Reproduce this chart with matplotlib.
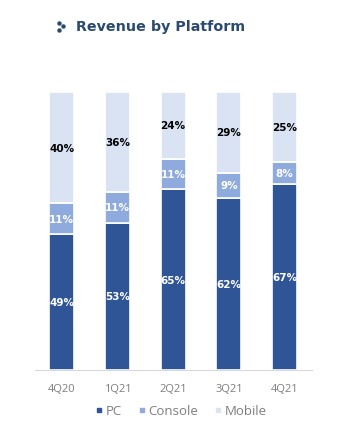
import matplotlib
matplotlib.use("Agg")
import matplotlib.pyplot as plt
import numpy as np
from matplotlib.lines import Line2D

# data
quarters = ["4Q20", "1Q21", "2Q21", "3Q21", "4Q21"]
series = ["PC", "Console", "Mobile"]
pc = [49, 53, 65, 62, 67]
console = [11, 11, 11, 9, 8]
mobile = [40, 36, 24, 29, 25]

colors = ["#2F5597", "#8FAADC", "#DAE3F3"]
label_colors = ["white", "white", "black"]

fig = plt.figure(figsize=(3.54, 4.35), dpi=100)
ax = fig.add_axes([0.099, 0.147, 0.782, 0.639])

x = np.arange(len(quarters))
bottom = np.zeros(len(quarters))
for name, vals, col, tcol in zip(series, [pc, console, mobile], colors, label_colors):
    vals = np.array(vals, dtype=float)
    ax.bar(x, vals, width=0.45, bottom=bottom, color=col, edgecolor="white",
           linewidth=1.2, label=name)
    for xi, b, v in zip(x, bottom, vals):
        ax.text(xi, b + v / 2, f"{v:.0f}%", ha="center", va="center",
                color=tcol, fontsize=7.5, fontweight="bold", family="DejaVu Sans")
    bottom += vals

ax.set_xlim(-0.48, 4.49)
ax.set_ylim(0, 100)
ax.set_yticks([])
ax.set_xticks(x)
ax.set_xticklabels(quarters, fontsize=8, color="#7f7f7f", family="Open Sans")
ax.tick_params(axis="x", length=0, pad=9)
for s in ["top", "right", "left"]:
    ax.spines[s].set_visible(False)
ax.spines["bottom"].set_color("#d9d9d9")
ax.spines["bottom"].set_linewidth(0.8)

handles = [Line2D([], [], marker="s", linestyle="none", markersize=3.5,
                  markerfacecolor=c, markeredgecolor=c) for c in colors]
fig.legend(handles, series, loc="center", bbox_to_anchor=(0.51, 0.053), ncol=3,
           frameon=False, handletextpad=0.1, columnspacing=1.1,
           prop={"family": "Open Sans", "size": 9.5}, labelcolor="#7f7f7f",
           handlelength=0.8)

# title with small dot icon
fig.text(0.216, 0.938, "Revenue by Platform", fontsize=10.3, fontweight="bold",
         color="#2B4A6F", ha="left", va="center", family="DejaVu Sans")
for dx, dy in [(58.5, 23.5), (62.5, 27.3), (58.5, 31.0)]:
    fig.add_artist(Line2D([dx / 354], [1 - dy / 435], marker="o", markersize=2.2,
                          color="#2B4A6F", transform=fig.transFigure))

fig.savefig("out.png", dpi=100)
